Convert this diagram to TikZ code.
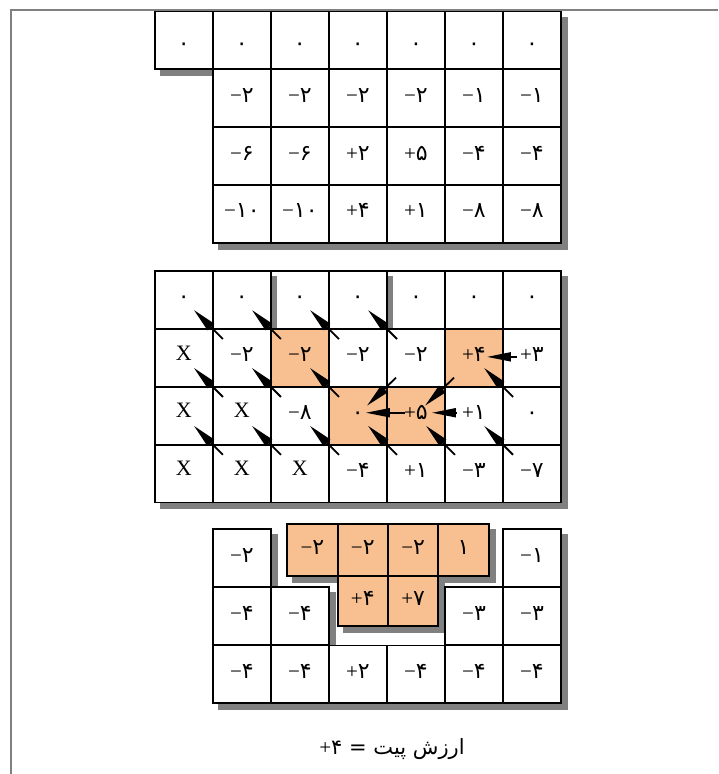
\documentclass[tikz,border=0pt]{standalone}
\usepackage{fontspec}
\setmainfont{Liberation Serif}
\newfontfamily\arabicfont[Script=Arabic]{DejaVu Sans}
\TeXXeTstate=1
\usetikzlibrary{arrows.meta,calc}
\definecolor{peach}{RGB}{248,192,145}
\definecolor{shadowgray}{RGB}{128,128,128}
\pgfdeclarelayer{bg}
\pgfsetlayers{bg,main}
\newcommand\dg{\arabicfont\fontsize{22}{24}\selectfont}
\newcommand\sgn{\rmfamily\fontsize{21}{23}\selectfont}
\newcommand\xfont{\rmfamily\fontsize{22}{24}\selectfont}
\newcommand\sv[2]{{\sgn#1}{\dg#2}}
\newcommand\mycell[5]{\node[#4] (#1) at (#2,#3) {#5};
  \begin{pgfonlayer}{bg}\fill[shadowgray] ($(#1.north west)+(6,6)$) rectangle ($(#1.south east)+(6,6)$);\end{pgfonlayer}}
\begin{document}
\begin{tikzpicture}[x=1pt,y=-1pt,
  cell/.style={draw=black, line width=1.8pt, fill=white, minimum width=58.03pt, minimum height=57.85pt, inner sep=0pt, text height=8pt, text depth=0pt},
  ocell/.style={cell, fill=peach},
  xcell/.style={cell, font=\xfont, text height=4.4pt, text depth=0pt},
  tcell/.style={ocell, minimum width=50.33pt, minimum height=51.7pt},
  bcell/.style={ocell, minimum width=50.33pt, minimum height=50pt},
  arr/.style={line width=1.8pt, -{Triangle[length=24pt,width=9pt]}}]
\useasboundingbox (0,0) rectangle (718,774);
\draw[shadowgray, line width=2pt] (11,774) -- (11,10) -- (718,10);
% ---------- grid 1
\foreach \c in {0,...,6} {\mycell{a0\c}{183.8+58.03*\c}{40.4}{cell}{\raisebox{-6pt}{\sv{}{۰}}}}
\foreach \c/\v in {1/\sv{−}{۲},2/\sv{−}{۲},3/\sv{−}{۲},4/\sv{−}{۲},5/\sv{−}{۱},6/\sv{−}{۱}} {\mycell{a1\c}{183.8+58.03*\c}{98.2}{cell}{\v}}
\foreach \c/\v in {1/\sv{−}{۶},2/\sv{−}{۶},3/\sv{+}{۲},4/\sv{+}{۵},5/\sv{−}{۴},6/\sv{−}{۴}} {\mycell{a2\c}{183.8+58.03*\c}{156}{cell}{\v}}
\foreach \c/\v in {1/\sv{−}{۱۰},2/\sv{−}{۱۰},3/\sv{+}{۴},4/\sv{+}{۱},5/\sv{−}{۸},6/\sv{−}{۸}} {\mycell{a3\c}{183.8+58.03*\c}{213.8}{cell}{\v}}
% ---------- grid 2
\foreach \c in {0,...,6} {\mycell{b0\c}{183.8+58.03*\c}{299.95}{cell}{\sv{}{۰}}}
\foreach \c/\s/\v in {0/xcell/X,1/cell/\sv{−}{۲},2/ocell/\sv{−}{۲},3/cell/\sv{−}{۲},4/cell/\sv{−}{۲},5/ocell/\sv{+}{۴},6/cell/\sv{+}{۳}} {\mycell{b1\c}{183.8+58.03*\c}{357.85}{\s}{\v}}
\foreach \c/\s/\v in {0/xcell/X,1/xcell/X,2/cell/\sv{−}{۸},3/ocell/\sv{}{۰},4/ocell/\sv{+}{۵},5/cell/\sv{+}{۱},6/cell/\sv{}{۰}} {\mycell{b2\c}{183.8+58.03*\c}{415.75}{\s}{\v}}
\foreach \c/\s/\v in {0/xcell/X,1/xcell/X,2/xcell/X,3/cell/\sv{−}{۴},4/cell/\sv{+}{۱},5/cell/\sv{−}{۳},6/cell/\sv{−}{۷}} {\mycell{b3\c}{183.8+58.03*\c}{473.65}{\s}{\v}}
\fill[shadowgray] (271.9,276) rectangle (277,328);
\fill[shadowgray] (387.9,276) rectangle (393,328);
% ---------- grid 3
\mycell{c11}{241.85}{558.15}{cell}{\sv{−}{۲}}
\mycell{c16}{532.0}{558.15}{cell}{\sv{−}{۱}}
\mycell{c21}{241.85}{616.25}{cell}{\sv{−}{۴}}
\mycell{c22}{299.9}{616.25}{cell}{\sv{−}{۴}}
\mycell{c25}{474.0}{616.25}{cell}{\sv{−}{۳}}
\mycell{c26}{532.0}{616.25}{cell}{\sv{−}{۳}}
\foreach \c/\v in {1/\sv{−}{۴},2/\sv{−}{۴},3/\sv{+}{۲},4/\sv{−}{۴},5/\sv{−}{۴},6/\sv{−}{۴}} {\mycell{c3\c}{183.8+58.03*\c}{674.4}{cell}{\v}}
\foreach \c/\v in {0/\sv{−}{۲},1/\sv{−}{۲},2/\sv{−}{۲},3/\sv{}{۱}} {\mycell{t\c}{312.45+50.33*\c}{550.15}{tcell}{\v}}
\mycell{u1}{362.8}{601}{bcell}{\sv{+}{۴}}
\mycell{u2}{413.15}{601}{bcell}{\sv{+}{۷}}
% ---------- arrows
\foreach \n in {b11,b12,b13,b14,b21,b22,b23,b26,b31,b32,b33,b34,b35,b36}
  \draw[arr] ($(\n.north west)+(11,11)$) -- ($(\n.north west)+(-18,-18)$);
\foreach \n in {b14,b15}
  \draw[arr] ($(\n.south west)+(10,-10)$) -- ($(\n.south west)+(-19,18)$);
\draw[arr] ($(b16.center)+(-15,-1)$) -- ($(b15.center)+(13,-1)$);
\draw[arr] ($(b24.center)+(-11,-3)$) -- ($(b23.center)+(8,-3)$);
\draw[arr] ($(b25.center)+(-17,-3)$) -- ($(b24.center)+(16,-3)$);
% ---------- caption
\node (val) at (392,749) {\arabicfont\fontsize{21}{23}\selectfont\beginR ارزش پیت = \beginL{\sgn +}{\arabicfont\fontsize{21}{23}\selectfont ۴}\endL\endR};
\end{tikzpicture}
\end{document}
